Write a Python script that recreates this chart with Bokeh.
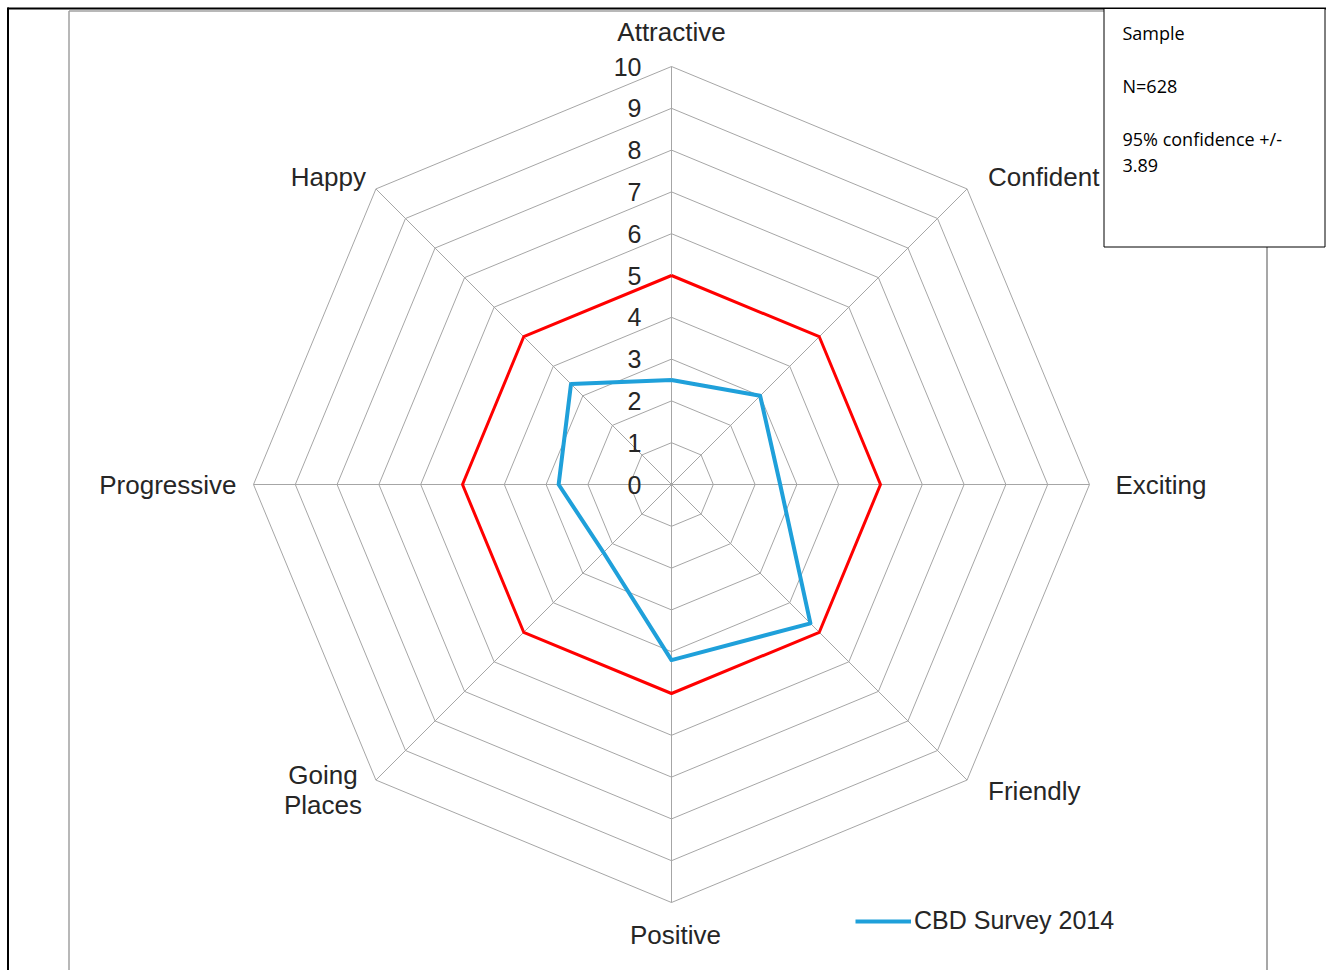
import math
from bokeh.plotting import figure
from bokeh.models import Range1d, Legend, LegendItem
from bokeh.core.properties import value
from bokeh.embed import file_html
from bokeh.resources import INLINE

# ---------------- data ----------------
categories = ["Attractive", "Confident", "Exciting", "Friendly",
              "Positive", "Going Places", "Progressive", "Happy"]
survey_2014 = [2.5, 3.0, 2.6, 4.7, 4.2, 2.3, 2.7, 3.4]
midpoint = [5, 5, 5, 5, 5, 5, 5, 5]
tick_values = [0, 1, 2, 3, 4, 5, 6, 7, 8, 9, 10]
series_name = "CBD Survey 2014"
note_lines = ["Sample", "N=628", "95% confidence +/-", "3.89"]

# ---------------- layout ----------------
W, H = 1326, 970           # canvas size
CX, CY = 671, 484          # radar centre in canvas pixels
SCALE = 41.8               # pixels per value unit
RMAX = 10

def dx(sx):
    return (sx - CX) / SCALE

def dy(sy):
    return (CY - sy) / SCALE

n = len(categories)
angles = [math.radians(90 - 360.0 * i / n) for i in range(n)]

def polar(vals):
    xs = [v * math.cos(a) for v, a in zip(vals, angles)]
    ys = [v * math.sin(a) for v, a in zip(vals, angles)]
    return xs + xs[:1], ys + ys[:1]

p = figure(width=W, height=H,
           x_range=Range1d(dx(0), dx(W)),
           y_range=Range1d(dy(H), dy(0)),
           x_axis_type=None, y_axis_type=None,
           output_backend="svg", toolbar_location=None,
           min_border=0)
p.grid.visible = False
p.outline_line_color = None
p.background_fill_color = "white"
p.border_fill_color = "white"

# outer frames
p.line([dx(7), dx(W)], [dy(8), dy(8)], line_color="black", line_width=2)
p.line([dx(7.5), dx(7.5)], [dy(7), dy(H)], line_color="black", line_width=2)
frame_col = "#a0a0a0"
p.line([dx(68.5), dx(68.5)], [dy(10.5), dy(H)], line_color=frame_col, line_width=1.5)
p.line([dx(68.5), dx(1266.5)], [dy(10.5), dy(10.5)], line_color=frame_col, line_width=1.5)
p.line([dx(1266.5), dx(1266.5)], [dy(10.5), dy(H)], line_color="#8a8a8a", line_width=1.5)

# grid rings
grid_col = "#a6a6a6"
for t in tick_values[1:]:
    gx, gy = polar([t] * n)
    p.line(gx, gy, line_color=grid_col, line_width=1)
# spokes
for a in angles:
    p.line([0, RMAX * math.cos(a)], [0, RMAX * math.sin(a)],
           line_color=grid_col, line_width=1)

# tick labels
p.text(x=[dx(641)] * len(tick_values), y=tick_values,
       text=[str(t) for t in tick_values],
       text_align="right", text_baseline="middle",
       text_font=value("Liberation Sans"), text_font_size="25px",
       text_color="#262626")

# category labels (offsets in pixels from ring-10 vertex)
label_offsets = {
    "Attractive": (0, -35, "center"),
    "Confident": (21, -12, "left"),
    "Exciting": (26, 0, "left"),
    "Friendly": (21, 11, "left"),
    "Positive": (4, 32, "center"),
    "Going Places": (-53, 10, "center"),
    "Progressive": (-17, 0, "right"),
    "Happy": (-10, -12, "right"),
}
for cat, a in zip(categories, angles):
    ox, oy, al = label_offsets[cat]
    vx = RMAX * math.cos(a) + ox / SCALE
    vy = RMAX * math.sin(a) - oy / SCALE
    words = cat.split(" ")
    lines = words if len(words) > 1 else [cat]
    nl = len(lines)
    for k, ln in enumerate(lines):
        yy = vy + ((nl - 1) / 2.0 - k) * 30 / SCALE
        p.text(x=[vx], y=[yy], text=[ln], text_align=al, text_baseline="middle",
               text_font=value("Liberation Sans"), text_font_size="26px",
               text_color="#262626")

# series
rx, ry = polar(midpoint)
p.line(rx, ry, line_color="#ff0000", line_width=3, line_join="round")
bx, by = polar(survey_2014)
blue = p.line(bx, by, line_color="#1fa0da", line_width=4, line_join="round")

legend = Legend(items=[LegendItem(label=series_name, renderers=[blue])],
                location=(855, 35), glyph_width=56, glyph_height=20,
                label_height=20, label_standoff=3, padding=0, margin=0,
                border_line_color=None, background_fill_alpha=0,
                label_text_font="Liberation Sans", label_text_font_size="25px",
                label_text_color="#262626")
p.add_layout(legend)

# sample note box
p.quad(left=[dx(1103.5)], right=[dx(1324.5)], top=[dy(8)], bottom=[dy(246.5)],
       fill_color="white", line_color="black", line_width=1)
note_y = [32, 85, 138, 165]
p.text(x=[dx(1122)] * len(note_lines), y=[dy(v) for v in note_y], text=note_lines,
       text_align="left", text_baseline="middle",
       text_font=value("Open Sans"), text_font_size="18px", text_color="black")

open("out.html", "w").write(file_html(p, INLINE))
